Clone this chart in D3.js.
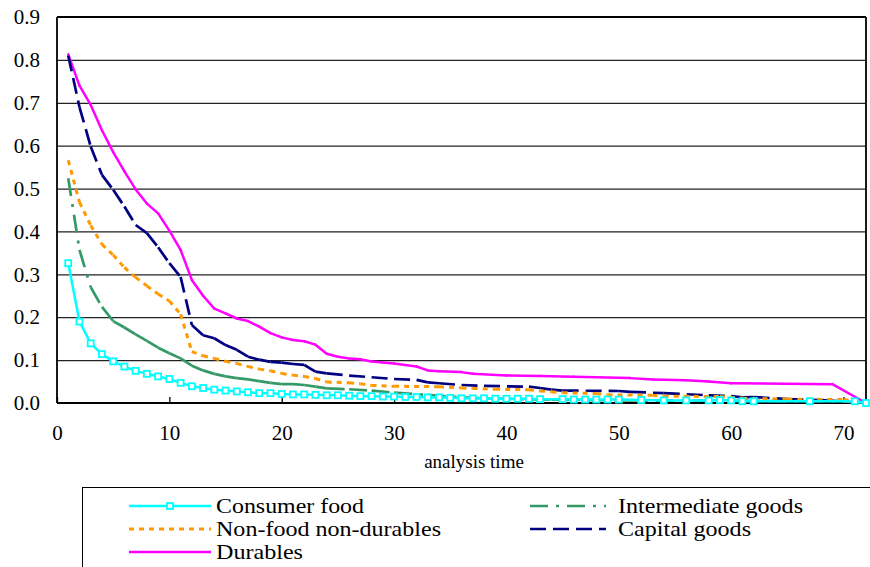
<!DOCTYPE html>
<html><head><meta charset="utf-8">
<script src="https://cdn.jsdelivr.net/npm/d3@7"></script>
<style>body{margin:0;background:#fff}svg{display:block}</style>
</head><body>
<svg id="c" width="870" height="567"></svg>
<script>
// ---- data ----
const xTicks = [0,10,20,30,40,50,60,70];
const yTicks = [0,0.1,0.2,0.3,0.4,0.5,0.6,0.7,0.8,0.9];
const seriesNames = ["Consumer food","Intermediate goods","Non-food non-durables","Capital goods","Durables"];

const consumerFoodT = [1,2,3,4,5,6,7,8,9,10,11,12,13,14,15,16,17,18,19,20,21,22,23,24,25,26,27,28,29,30,31,32,33,34,35,36,37,38,39,40,41,42,43,45,46,47,48,49,50,52,54,56,58,59,60,61,62,67,71,72];
const consumerFoodV = [0.326,0.190,0.139,0.114,0.097,0.085,0.075,0.068,0.062,0.056,0.047,0.039,0.035,0.031,0.029,0.027,0.025,0.023,0.023,0.021,0.020,0.020,0.019,0.018,0.018,0.017,0.016,0.016,0.015,0.015,0.014,0.014,0.013,0.013,0.012,0.011,0.011,0.011,0.010,0.010,0.010,0.010,0.009,0.009,0.008,0.008,0.008,0.008,0.008,0.007,0.006,0.006,0.006,0.007,0.006,0.004,0.004,0.004,0.004,0.000];

const intermediateT = [1,2,3,4,5,6,7,8,9,10,11,12,13,14,15,16,17,18,19,20,21,22,23,24,26,28,30,33,36,39,44,50,60,70,72];
const intermediateV = [0.524,0.357,0.270,0.224,0.191,0.176,0.160,0.145,0.129,0.116,0.104,0.087,0.076,0.068,0.062,0.058,0.055,0.051,0.047,0.044,0.044,0.042,0.038,0.034,0.032,0.029,0.024,0.019,0.013,0.010,0.008,0.006,0.005,0.004,0.000];

const nonFoodT = [1,2,3,4,5,6,7,8,9,10,11,12,13,14,15,16,17,18,19,20,21,22,23,24,26,27,28,30,34,36,37,39,42,43,44,45,48,49,53,54,59,61,65,70,72];
const nonFoodV = [0.566,0.468,0.414,0.370,0.345,0.316,0.293,0.273,0.254,0.238,0.207,0.120,0.110,0.104,0.097,0.092,0.085,0.079,0.075,0.069,0.065,0.062,0.057,0.049,0.047,0.045,0.041,0.039,0.038,0.035,0.034,0.032,0.031,0.028,0.026,0.024,0.022,0.019,0.018,0.016,0.015,0.011,0.009,0.008,0.000];

const capitalT = [1,2,3,4,5,6,7,8,9,10,11,12,13,14,15,16,17,18,19,20,21,22,23,24,26,28,30,32,33,34,36,38,42,43,44,45,50,51,54,58,60,61,62,65,68,70,72];
const capitalV = [0.810,0.690,0.598,0.532,0.497,0.458,0.415,0.396,0.363,0.326,0.294,0.182,0.158,0.151,0.135,0.124,0.108,0.101,0.096,0.094,0.091,0.089,0.073,0.069,0.064,0.060,0.056,0.054,0.048,0.046,0.042,0.040,0.038,0.035,0.031,0.029,0.028,0.026,0.023,0.018,0.016,0.013,0.014,0.009,0.007,0.003,0.000];

const durablesT = [1,2,3,4,5,6,7,8,9,10,11,12,13,14,15,16,17,18,19,20,21,22,23,24,25,26,27,28,30,32,33,34,36,37,40,43,46,51,53,56,58,60,69,72];
const durablesV = [0.813,0.740,0.695,0.636,0.585,0.540,0.498,0.465,0.442,0.402,0.357,0.287,0.250,0.220,0.209,0.197,0.191,0.178,0.163,0.153,0.147,0.144,0.136,0.115,0.108,0.104,0.102,0.097,0.092,0.085,0.076,0.074,0.072,0.068,0.064,0.063,0.061,0.058,0.055,0.053,0.050,0.046,0.044,0.000];

// ---- layout / styles ----
const svg = d3.select("#c");
const L = 57, R = 866, T = 17, B = 403;
const x = d3.scaleLinear().domain([0,72]).range([L,R]);
const y = d3.scaleLinear().domain([0,0.9]).range([B,T]);
const serif = '"Liberation Serif"';

const styles = {
  "Consumer food":        {color:"#00FFFF", w:2.5, dash:null, marker:true},
  "Intermediate goods":   {color:"#339966", w:2.7, dash:"18,8,3,8"},
  "Non-food non-durables":{color:"#FF9900", w:3,   dash:"5,5"},
  "Capital goods":        {color:"#000080", w:2.7, dash:"16,7"},
  "Durables":             {color:"#FF00FF", w:2.5, dash:null}
};
const data = {
  "Consumer food": d3.zip(consumerFoodT, consumerFoodV),
  "Intermediate goods": d3.zip(intermediateT, intermediateV),
  "Non-food non-durables": d3.zip(nonFoodT, nonFoodV),
  "Capital goods": d3.zip(capitalT, capitalV),
  "Durables": d3.zip(durablesT, durablesV)
};

// gridlines
svg.append("g").attr("transform",`translate(${L},0)`)
  .call(d3.axisLeft(y).tickValues(yTicks).tickSize(-(R-L)).tickFormat(""))
  .call(g=>g.select(".domain").remove())
  .call(g=>g.selectAll("line").attr("stroke","#222").attr("stroke-width",1.2));

// y labels
svg.append("g").attr("transform",`translate(${L},0)`)
  .call(d3.axisLeft(y).tickValues(yTicks).tickSize(0).tickPadding(17).tickFormat(d3.format(".1f")))
  .call(g=>g.select(".domain").remove())
  .call(g=>g.selectAll("text").style("font-family",serif).style("font-size","21px").attr("fill","#000"));

// x axis
svg.append("g").attr("transform",`translate(0,${B})`)
  .call(d3.axisBottom(x).tickValues(xTicks).tickSize(-6).tickPadding(22).tickSizeOuter(0))
  .call(g=>g.select(".domain").remove())
  .call(g=>g.selectAll("line").attr("stroke","#000").attr("stroke-width",1.3))
  .call(g=>g.selectAll("text").style("font-family",serif).style("font-size","21px").attr("fill","#000"));

// frame
[[L,T,L,B],[L,B,R,B],[R,T,R,B],[L,T,R,T]].forEach(c=>{
  svg.append("line").attr("x1",c[0]).attr("y1",c[1]).attr("x2",c[2]).attr("y2",c[3])
    .attr("stroke","#000").attr("stroke-width",1.8);
});

// series: each segment drawn separately so the dash pattern restarts at every vertex
const drawOrder = ["Durables","Capital goods","Non-food non-durables","Intermediate goods","Consumer food"];
drawOrder.forEach(name=>{
  const s = styles[name], pts = data[name];
  const segs = d3.pairs(pts);
  const g = svg.append("g");
  g.selectAll("line").data(segs).join("line")
    .attr("x1",d=>x(d[0][0])).attr("y1",d=>y(d[0][1]))
    .attr("x2",d=>x(d[1][0])).attr("y2",d=>y(d[1][1]))
    .attr("stroke",s.color).attr("stroke-width",s.w)
    .attr("stroke-linecap", s.dash ? "butt" : "round")
    .attr("stroke-dasharray",s.dash);
  if(s.marker){
    g.selectAll("rect").data(pts).join("rect")
      .attr("x",d=>x(d[0])-3).attr("y",d=>y(d[1])-3)
      .attr("width",6).attr("height",6)
      .attr("fill","#fff").attr("stroke",s.color).attr("stroke-width",1.8);
  }
});

// x axis title
svg.append("text").attr("x",474).attr("y",468).attr("text-anchor","middle")
  .style("font-family",serif).style("font-size","19px").text("analysis time");

// legend
const lg = svg.append("g");
lg.append("rect").attr("x",82.5).attr("y",487.5).attr("width",800).attr("height",100)
  .attr("fill","#fff").attr("stroke","#000").attr("stroke-width",1);
const legendItems = [
  {name:"Consumer food", col:0, row:0, w:148},
  {name:"Intermediate goods", col:1, row:0, w:185},
  {name:"Non-food non-durables", col:0, row:1, w:225},
  {name:"Capital goods", col:1, row:1, w:133},
  {name:"Durables", col:0, row:2, w:87}
];
const colX = [[129,211,216],[530,606,618]];
const rowY = [506,529,552];
legendItems.forEach(it=>{
  const s = styles[it.name], cx = colX[it.col], cy = rowY[it.row];
  lg.append("line").attr("x1",cx[0]).attr("x2",cx[1]).attr("y1",cy).attr("y2",cy)
    .attr("stroke",s.color).attr("stroke-width",s.w).attr("stroke-dasharray",s.dash);
  if(s.marker){
    lg.append("rect").attr("x",(cx[0]+cx[1])/2-3).attr("y",cy-3).attr("width",6).attr("height",6)
      .attr("fill","#fff").attr("stroke",s.color).attr("stroke-width",1.8);
  }
  lg.append("text").attr("x",cx[2]).attr("y",cy).attr("dy","0.35em")
    .style("font-family",serif).style("font-size","21px")
    .attr("textLength",it.w).attr("lengthAdjust","spacingAndGlyphs").text(it.name);
});
</script>
</body></html>
